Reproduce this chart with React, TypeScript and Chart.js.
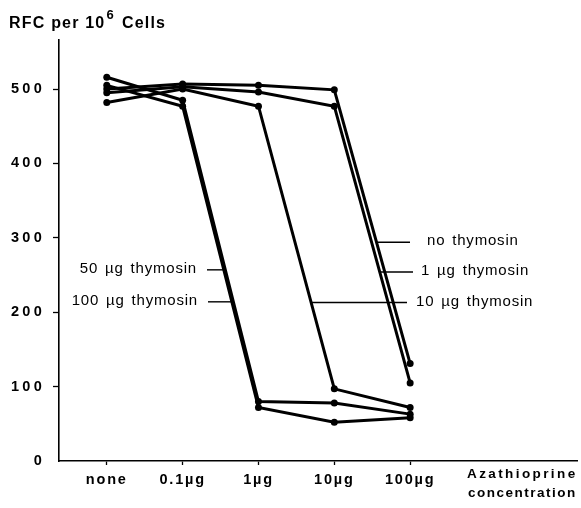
import React, { useEffect, useRef } from 'react';
import { Chart, registerables } from 'chart.js';

Chart.register(...registerables);

// ---- data ----
const concentrations = ['none', '0.1µg', '1µg', '10µg', '100µg'];
const yTickValues = [0, 100, 200, 300, 400, 500];
const seriesNames = ['no thymosin', '1 µg thymosin', '10 µg thymosin', '50 µg thymosin', '100 µg thymosin'];
const noThymosin = [500, 507, 505, 499, 131];
const thymosin1 = [495, 503, 496, 477, 105];
const thymosin10 = [482, 500, 477, 97, 72];
const thymosin50 = [516, 485, 80, 78, 63];
const thymosin100 = [505, 477, 72, 52, 58];
const seriesValues = [noThymosin, thymosin1, thymosin10, thymosin50, thymosin100];
const xAxisTitle = ['Azathioprine', 'concentration'];
const yTitleMain = 'RFC per 10';
const yTitleSup = '6';
const yTitleEnd = 'Cells';

// label placement (layout only)
const labelLayout = [
  { yValue: 294, side: 'right', textX: 427, leaderEnd: 410 },
  { yValue: 254, side: 'right', textX: 421, leaderEnd: 413 },
  { yValue: 213, side: 'right', textX: 416, leaderEnd: 407 },
  { yValue: 257, side: 'left', textX: 197, leaderEnd: 207 },
  { yValue: 214, side: 'left', textX: 198, leaderEnd: 208 },
];

const FONT = '"Liberation Sans", Arial, Helvetica, sans-serif';

function crossIndex(values: number[], yv: number): number {
  for (let i = 0; i < values.length - 1; i++) {
    const a = values[i];
    const b = values[i + 1];
    if ((a - yv) * (b - yv) <= 0 && a !== b) {
      return i + (yv - a) / (b - a);
    }
  }
  return 0;
}

function patchLabels(scale: any, spacing: string) {
  if (scale.__patched) return;
  scale.__patched = true;
  const orig = scale.drawLabels.bind(scale);
  scale.drawLabels = (area: any) => {
    const ctx = scale.ctx;
    ctx.save();
    (ctx as any).letterSpacing = spacing;
    orig(area);
    ctx.restore();
  };
}

const annotationPlugin = {
  id: 'annotations',
  afterDraw(chart: any) {
    const ctx = chart.ctx as CanvasRenderingContext2D;
    const xs = chart.scales.x;
    const ys = chart.scales.y;
    ctx.save();
    ctx.fillStyle = '#000';
    ctx.strokeStyle = '#000';

    // y-axis title
    (ctx as any).letterSpacing = '1.2px';
    ctx.font = `bold 16px ${FONT}`;
    ctx.textBaseline = 'alphabetic';
    ctx.textAlign = 'left';
    let x = 9;
    ctx.fillText(yTitleMain, x, 28);
    x += ctx.measureText(yTitleMain).width + 1;
    ctx.font = `bold 13px ${FONT}`;
    ctx.fillText(yTitleSup, x, 19);
    x += ctx.measureText(yTitleSup).width + 7;
    ctx.font = `bold 16px ${FONT}`;
    ctx.fillText(yTitleEnd, x, 28);

    // x-axis title
    (ctx as any).letterSpacing = '2.4px';
    ctx.font = `bold 13.5px ${FONT}`;
    ctx.textBaseline = 'middle';
    ctx.fillText(xAxisTitle[0], 467, 474);
    (ctx as any).letterSpacing = '1.5px';
    ctx.fillText(xAxisTitle[1], 468, 493);

    // series labels with leader lines
    (ctx as any).letterSpacing = '0.8px';
    (ctx as any).wordSpacing = '2px';
    ctx.font = `15px ${FONT}`;
    ctx.lineWidth = 1.4;
    labelLayout.forEach((l, i) => {
      const py = ys.getPixelForValue(l.yValue);
      const px = xs.getPixelForValue(crossIndex(seriesValues[i], l.yValue));
      ctx.beginPath();
      ctx.moveTo(px, py);
      ctx.lineTo(l.leaderEnd, py);
      ctx.stroke();
      ctx.textAlign = l.side === 'right' ? 'left' : 'right';
      ctx.fillText(seriesNames[i], l.textX, py - 1);
    });
    ctx.restore();
  },
};

export default function App() {
  const ref = useRef<HTMLCanvasElement | null>(null);
  useEffect(() => {
    if (!ref.current) return;
    const chart = new Chart(ref.current, {
      type: 'line',
      data: {
        datasets: seriesValues.map((vals, i) => ({
          label: seriesNames[i],
          data: vals.map((v, j) => ({ x: j, y: v })),
          borderColor: '#000',
          backgroundColor: '#000',
          borderWidth: 3,
          pointRadius: 3.5,
          pointBorderWidth: 0,
          pointBackgroundColor: '#000',
          tension: 0,
        })),
      },
      options: {
        animation: false,
        responsive: false,
        layout: { padding: { top: 40, right: 0, left: 0, bottom: 0 } },
        plugins: { legend: { display: false }, tooltip: { enabled: false }, title: { display: false } },
        scales: {
          x: {
            type: 'linear',
            min: -0.63,
            max: 6.2,
            afterBuildTicks: (s: any) => {
              s.ticks = concentrations.map((_, i) => ({ value: i }));
            },
            afterFit: (s: any) => {
              s.height = 47;
              patchLabels(s, '1.8px');
            },
            ticks: {
              autoSkip: false,
              maxRotation: 0,
              padding: 6,
              color: '#000',
              font: { family: FONT, size: 14.5, weight: 'bold' },
              callback: (v: any) => concentrations[Math.round(Number(v))] ?? '',
            },
            grid: { drawOnChartArea: false, drawTicks: true, tickLength: 4, tickColor: '#000', tickWidth: 1.3 },
            border: { display: true, color: '#000', width: 1.6 },
          },
          y: {
            type: 'linear',
            min: 0,
            max: 566,
            afterBuildTicks: (s: any) => {
              s.ticks = yTickValues.map((v) => ({ value: v }));
            },
            afterFit: (s: any) => {
              s.width = 59;
              patchLabels(s, '3.3px');
            },
            ticks: {
              padding: 8,
              color: '#000',
              font: { family: FONT, size: 14.5, weight: 'bold' },
              callback: (v: any) => String(v),
            },
            grid: { drawOnChartArea: false, drawTicks: true, tickLength: 6, tickColor: (c: any) => (c.tick && c.tick.value === 0 ? 'rgba(0,0,0,0)' : '#000'), tickWidth: 1.3 },
            border: { display: true, color: '#000', width: 1.6 },
          },
        },
      },
      plugins: [annotationPlugin],
    } as any);
    return () => chart.destroy();
  }, []);
  return (
    <div style={{ position: 'fixed', left: 0, top: 0, width: 581, height: 508, background: '#fff' }}>
      <canvas ref={ref} width={581} height={508} style={{ width: 581, height: 508, display: 'block' }} />
    </div>
  );
}
